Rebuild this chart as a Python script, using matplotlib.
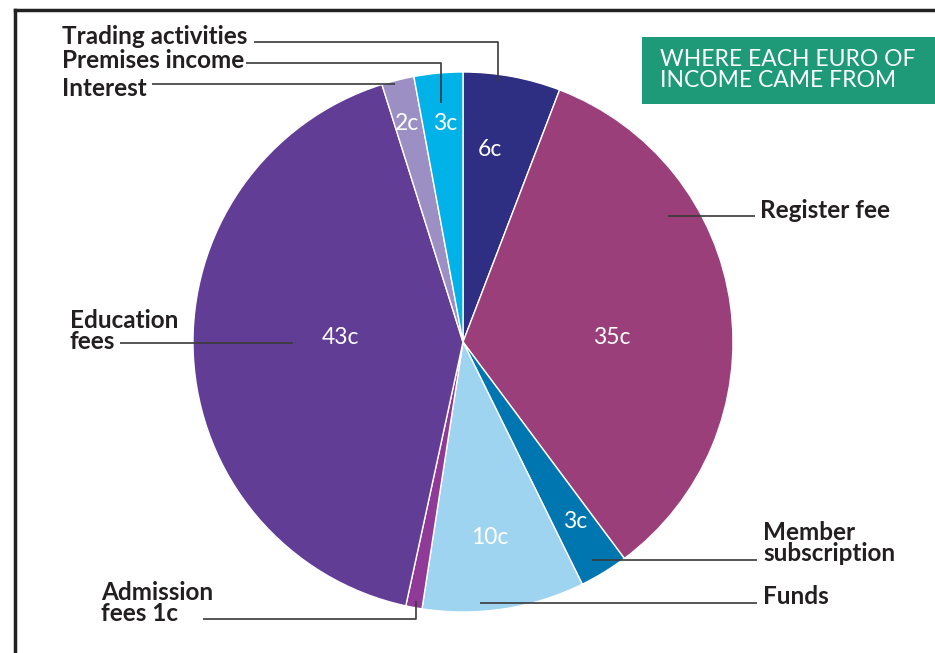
import matplotlib.pyplot as plt
from matplotlib.patches import Rectangle

# Donde viene cada euro (en céntimos), en sentido horario desde arriba
categories = ['Trading activities', 'Register fee', 'Member subscription', 'Funds',
              'Admission fees', 'Education fees', 'Interest', 'Premises income']
cents = [6, 35, 3, 10, 1, 43, 2, 3]
value_labels = ['6c', '35c', '3c', '10c', '', '43c', '2c', '3c']
colors = ['#2e2f82', '#9b3f7a', '#0076b0', '#9fd4f0',
          '#8e3a96', '#623d96', '#9b8fc4', '#00b2e8']

W, H = 935, 653
fig = plt.figure(figsize=(W / 100, H / 100), dpi=100)
ax = fig.add_axes([0, 0, 1, 1])

def py(y):
    # pasar de coordenadas de imagen (y hacia abajo) a y hacia arriba
    return H - y

cx, cy, R = 463, py(342), 270
ax.pie(cents, colors=colors, startangle=90, counterclock=False,
       center=(cx, cy), radius=R,
       wedgeprops=dict(edgecolor='white', linewidth=1.0))
ax.set_xlim(0, W)
ax.set_ylim(0, H)
ax.set_aspect('equal')
ax.axis('off')

font = 'Lato'
dark = '#231f20'
line_col = '#3a3a3a'

# etiquetas dentro de los sectores
inner_pos = [(490, 150), (612, 338), (575, 522), (490, 537),
             None, (340, 338), (407, 124), (445, 124)]
for lab, pos in zip(value_labels, inner_pos):
    if pos is None or not lab:
        continue
    ax.text(pos[0], py(pos[1]), lab, color='white', fontsize=16.5,
            family=font, ha='center', va='center')

# lineas guia y textos exteriores
def leader(xs, ys):
    ax.plot(xs, [py(y) for y in ys], color=line_col, lw=1.2,
            solid_capstyle='butt', clip_on=False)

kw = dict(color=dark, fontsize=17.5, family=font, fontweight='bold', linespacing=0.88)

ax.text(62, py(36), 'Trading activities', ha='left', va='center', **kw)
leader([254, 498, 498], [42, 42, 82])
ax.text(62, py(61), 'Premises income', ha='left', va='center', **kw)
leader([246, 441, 441], [63, 63, 103])
ax.text(62, py(88), 'Interest', ha='left', va='center', **kw)
leader([152, 395], [84, 84])

ax.text(70, py(331), 'Education\nfees', ha='left', va='center', **kw)
leader([120, 293], [343, 343])

ax.text(760, py(210), 'Register fee', ha='left', va='center', **kw)
leader([668, 755], [216, 216])

ax.text(763, py(543), 'Member\nsubscription', ha='left', va='center', **kw)
leader([592, 757], [560, 560])

ax.text(763, py(596), 'Funds', ha='left', va='center', **kw)
leader([480, 757], [603, 603])

ax.text(101, py(603), 'Admission\nfees 1c', ha='left', va='center', **kw)
leader([203, 416, 416], [619, 619, 601])

# recuadro del titulo
ax.add_patch(Rectangle((642, py(104)), W - 642, 67, facecolor='#1e9a78',
                       edgecolor='none', clip_on=False))
ax.text(660, py(70), 'WHERE EACH EURO OF\nINCOME CAME FROM', color='white',
        fontsize=16.5, family=font, ha='left', va='center', linespacing=0.95)

# marco superior e izquierdo
ax.plot([15, W], [py(10), py(10)], color='#222222', lw=2.5, clip_on=False)
ax.plot([15, 15], [py(10), 0], color='#222222', lw=2.5, clip_on=False)

fig.savefig('out.png', dpi=100)
